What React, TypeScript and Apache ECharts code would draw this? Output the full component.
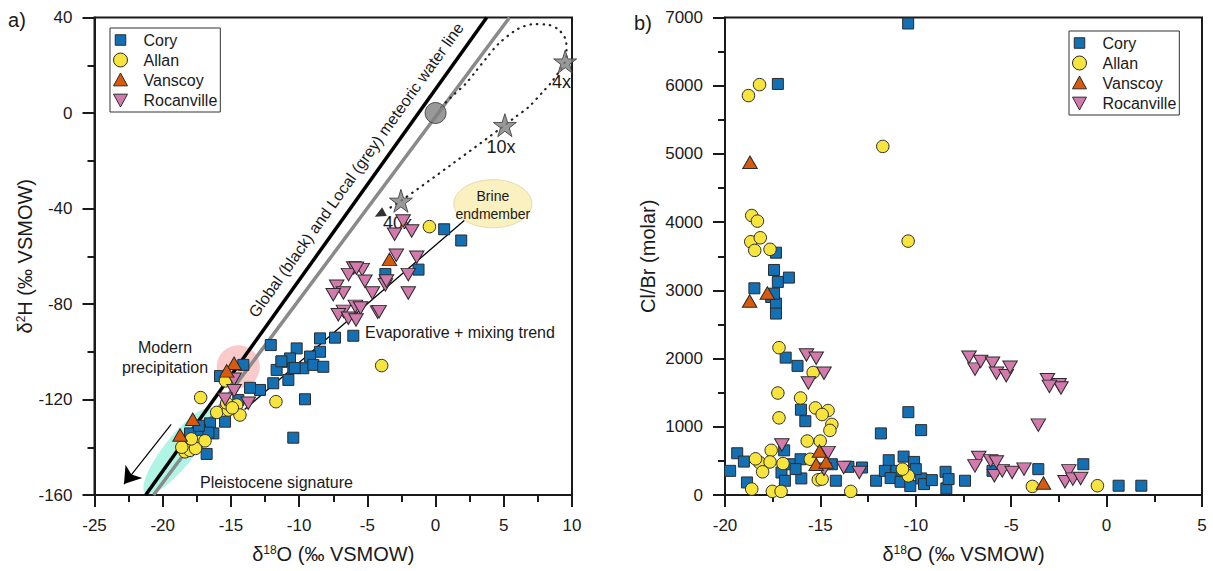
import React, { useEffect, useRef } from 'react';
import * as echarts from 'echarts';

// ---------- Panel a: δ18O vs δ2H ----------
const coryA = [
  [-14.09, -105.5], [-15.8, -110.2], [-12.08, -97.2], [-8.47, -94.4], [-7.37, -94.1], [-6.03, -93.3],
  [-10.18, -98.6], [-8.47, -100], [-9.2, -102], [-11.28, -104.2], [-10.67, -102.8], [-11.65, -107.6],
  [-10.43, -106.9], [-9.7, -106.9], [-8.96, -105.5], [-8.23, -106.3], [-10.79, -111.8], [-11.9, -113.2],
  [-12.87, -116], [-13.6, -115.1], [-9.57, -119.9], [-10.43, -136], [-16.78, -142.8], [-15.43, -129.3],
  [-16.53, -130], [-17.27, -132.8], [-16.29, -134.2], [-18, -134.2], [-14.46, -120.2], [0.63, -48.7],
  [1.88, -53.4], [-3.68, -67.4], [-1.25, -65.6], [-11.3, -104], [-10.33, -106.8], [-16.65, -133.9],
  [-17.35, -131],
];
const allanA = [
  [-0.45, -47.6], [-3.95, -105.8], [-17.22, -119.2], [-11.7, -120.9], [-16.04, -125.4], [-15.19, -124.4],
  [-14.58, -122.3], [-14.34, -126.5], [-15.31, -121.5], [-14.9, -123.5], [-18.24, -139.8], [-17.76, -138.3],
  [-17.27, -137.6], [-16.9, -137.3], [-18.37, -141.9], [-18.0, -141.3], [-17.6, -140.5], [-18.6, -140],
  [-17.9, -136.5], [-15.4, -112.2],
];
const vanscoyA = [[-14.77, -104.8], [-15.31, -108], [-17.8, -128.3], [-18.73, -134.9], [-3.38, -61.3]];
const rocanvilleA = [
  [-2.38, -45.2], [-1.75, -49.4], [-3.0, -50.8], [-2.88, -59.6], [-1.38, -60.4], [-2.0, -67.7], [-2.0, -75.4],
  [-3.68, -72], [-5.38, -65.6], [-6.0, -64.9], [-6.38, -67.7], [-5.18, -70.5], [-4.63, -75.4], [-7.25, -72.6],
  [-6.75, -75.4], [-7.5, -76.1], [-5.88, -81], [-5.5, -81.7], [-4.25, -83.4], [-6.75, -83.1], [-7.13, -84.5],
  [-6.39, -86], [-5.83, -86.7], [-4.14, -83.2], [-14.77, -111.5], [-14.77, -116.3], [-15.43, -119.9],
  [-13.73, -121.6], [-5.8, -65], [-3.6, -70.4],
];
const seawater = [[0, 0]];
const evapStars = [[9.5, 21.5], [5.08, -5.1], [-2.54, -36.8]];
const gmwl = [[-21.25, -160], [3.75, 40]];
const lmwl = [[-20.67, -160], [5.42, 40]];
const trendLine = [[-14, -124.2], [2.1, -45]];
const brinePath = [
  [0.4, 2.5], [1.3, 7.5], [2.2, 12.2], [2.9, 17.1], [3.8, 23.5], [4.6, 28.9], [6.0, 35.1], [7.2, 37.2],
  [8.2, 37], [9.0, 35], [9.55, 30.5], [9.6, 26], [9.5, 21.5], [8.5, 12.9], [7.95, 9.4], [6.82, 2.5],
  [5.84, -1.7], [5.08, -5.1], [1.3, -21], [-2.54, -36.8], [-3.6, -40.6],
];
const brineArrowHead = [[-4.1, -42.4]];
const coolingArrow = [[-19.38, -130.4], [-22.84, -155.4]];
const starLabels = ['4x', '10x', '40x'];

// annotation anchors (data coordinates)
const mwlTextAt = [-5.83, -23.9];
const modernAt = [-14.46, -106.3];
const modernTextAt = [-19.83, -102.6];
const evapTextAt = [-5.17, -91.9];
const pleistoAt = [-18.8, -141.5];
const pleistoTextAt = [-17.27, -154.8];
const brineAt = [4.2, -38];
const starLabelAt = [[8.53, 13], [4.8, -14.2], [-3.85, -46.1]];

// ---------- Panel b: δ18O vs Cl/Br ----------
const coryB = [
  [-10.4, 6912], [-17.23, 6026], [-17.33, 3552], [-17.43, 3299], [-17.23, 3124], [-16.65, 3187], [-18.46, 3030],
  [-17.58, 2903], [-17.33, 2806], [-17.33, 2660], [-17.43, 2951], [-16.82, 2014], [-16.2, 1893], [-16.02, 1250],
  [-15.79, 1082], [-11.83, 903], [-10.39, 1214], [-9.72, 951], [-19.73, 354], [-19.36, 612], [-19.01, 490],
  [-18.85, 184], [-16.9, 655], [-17.04, 330], [-16.86, 209], [-16.51, 451], [-16.04, 524], [-16.0, 243],
  [-14.19, 209], [-13.53, 413], [-12.82, 403], [-14.4, 451], [-12.08, 209], [-11.42, 510], [-11.62, 354],
  [-11.01, 354], [-11.32, 248], [-10.64, 563], [-10.09, 485], [-10.8, 194], [-10.29, 131], [-9.72, 243],
  [-9.57, 160], [-9.16, 218], [-8.44, 340], [-8.4, 97], [-8.28, 233], [-7.42, 209], [-5.98, 354], [-3.58, 379],
  [-1.22, 451], [0.63, 136], [1.82, 136], [-10.0, 379], [-16.3, 380],
];
const allanB = [
  [-18.77, 5855], [-18.19, 6016], [-11.73, 5110], [-10.4, 3722], [-18.6, 4097], [-18.3, 4015], [-18.65, 3713],
  [-18.15, 3771], [-18.44, 3586], [-17.64, 3601], [-17.17, 2160], [-15.38, 1796], [-17.23, 1495], [-16.04, 1422],
  [-17.17, 1131], [-15.26, 1277], [-14.6, 1238], [-14.91, 1180], [-14.4, 1034], [-14.5, 947], [-15.69, 791],
  [-15.01, 791], [-17.58, 655], [-16.96, 461], [-18.19, 476], [-17.64, 485], [-18.03, 340], [-18.6, 87],
  [-17.52, 53], [-17.06, 53], [-13.41, 53], [-15.11, 223], [-14.91, 233], [-3.89, 126], [-0.48, 136],
  [-10.39, 281], [-10.7, 379], [-15.53, 524], [-18.4, 530],
];
const vanscoyB = [[-18.69, 4877], [-18.71, 2844], [-17.78, 2961], [-15.22, 451], [-14.7, 485], [-15.05, 645], [-3.31, 175]];
const rocanvilleB = [
  [-15.73, 2053], [-15.22, 2005], [-14.81, 1786], [-15.63, 1641], [-17.02, 733], [-14.6, 621], [-14.81, 378],
  [-13.78, 403], [-12.96, 330], [-7.21, 2019], [-6.9, 1845], [-6.6, 1956], [-5.98, 1932], [-5.77, 1786],
  [-5.26, 1747], [-5.06, 1874], [-3.1, 1689], [-2.49, 1616], [-2.39, 1568], [-3.0, 1592], [-3.58, 1024],
  [-6.7, 549], [-6.08, 500], [-6.9, 427], [-5.88, 281], [-5.47, 354], [-4.95, 330], [-4.33, 379], [-1.98, 354],
  [-2.18, 194], [-1.77, 233], [-1.36, 243], [-5.78, 485],
];

const seriesNames = ['Cory', 'Allan', 'Vanscoy', 'Rocanville'];
const colors: any = { Cory: '#1370b4', Allan: '#f7e43c', Vanscoy: '#d85a0c', Rocanville: '#d27aab' };
const legendIcons: any = {
  Cory: 'path://M1.5,1.5H10.5V10.5H1.5Z M0,0Z M12,12Z',
  Allan: 'path://M6,0A6,6 0 1,1 6,12A6,6 0 1,1 6,0Z',
  Vanscoy: 'path://M6,0L12,11L0,11Z M0,12Z',
  Rocanville: 'path://M0,1L12,1L6,12Z M0,0Z',
};

const FONT = 'Arial, "Liberation Sans", sans-serif';
const INK = '#1a1a1a';
const STAR = 'path://M50,0L61.2,34.5L97.6,34.5L68.2,55.9L79.4,90.5L50,69.1L20.6,90.5L31.8,55.9L2.4,34.5L38.8,34.5Z';

function axis(gridIndex: number, min: number, max: number, interval: number, extra: any) {
  return {
    type: 'value', gridIndex, min, max, interval,
    axisLine: { show: true, onZero: false, lineStyle: { color: INK, width: 2 } },
    axisTick: { show: true, length: 12, lineStyle: { color: INK, width: 2 } },
    minorTick: { show: true, splitNumber: 2, length: 7, lineStyle: { color: INK, width: 2 } },
    splitLine: { show: false },
    minorSplitLine: { show: false },
    axisLabel: { fontSize: 17, color: INK, fontFamily: FONT, margin: 22, formatter: (v: number) => String(v) },
    nameLocation: 'middle',
    nameTextStyle: {
      fontSize: 20, color: INK, fontFamily: FONT,
      rich: {
        b: { fontSize: 20, color: INK, fontFamily: FONT },
        s: { fontSize: 12, color: INK, fontFamily: FONT, verticalAlign: 'top' },
      },
    },
    ...extra,
  };
}

function scatter(name: string, data: number[][], gi: number, symbol: string, size: any, rotate = 0) {
  return {
    type: 'scatter', name, data, xAxisIndex: gi, yAxisIndex: gi, symbol, symbolSize: size, symbolRotate: rotate,
    itemStyle: { color: colors[name], borderColor: '#2b2b2b', borderWidth: 1, opacity: 1 },
    z: 3,
  };
}

function legend(left: number, top: number) {
  return {
    data: seriesNames.map((n) => ({ name: n, icon: legendIcons[n], itemStyle: { color: colors[n], borderColor: '#2b2b2b', borderWidth: 1 } })),
    orient: 'vertical', left, top,
    itemWidth: 36, itemHeight: 14, itemGap: 4, padding: [4, 3, 4, 3],
    symbolKeepAspect: true, symbolRotate: 0,
    borderColor: '#333', borderWidth: 1, backgroundColor: '#fff',
    textStyle: { fontSize: 16, color: INK, fontFamily: FONT },
    selectedMode: false,
  };
}

export default function App() {
  const ref = useRef<HTMLDivElement>(null);
  useEffect(() => {
    const chart = echarts.init(ref.current!, null, { renderer: 'svg' });
    const option: any = {
      animation: false,
      backgroundColor: '#fff',
      grid: [
        { left: 94.5, top: 17.5, width: 477.5, height: 477.5, show: true, borderColor: INK, borderWidth: 2 },
        { left: 725, top: 17.5, width: 477, height: 477.5, show: true, borderColor: INK, borderWidth: 2 },
      ],
      xAxis: [
        axis(0, -25, 10, 5, { name: '{b|δ}{s|18}{b|O (‰ VSMOW)}', nameGap: 49 }),
        axis(1, -20, 5, 5, { name: '{b|δ}{s|18}{b|O (‰ VSMOW)}', nameGap: 49 }),
      ],
      yAxis: [
        axis(0, -160, 40, 40, { name: '{b|δ}{s|2}{b|H (‰ VSMOW)}', nameGap: 58 }),
        axis(1, 0, 7000, 1000, { name: 'Cl/Br (molar)', nameGap: 67 }),
      ],
      legend: [legend(110, 28), legend(1069, 31)],
      series: [
        { type: 'line', data: gmwl, xAxisIndex: 0, yAxisIndex: 0, symbol: 'none', silent: true, z: 2,
          lineStyle: { color: '#000', width: 3.5 } },
        { type: 'line', data: lmwl, xAxisIndex: 0, yAxisIndex: 0, symbol: 'none', silent: true, z: 2,
          lineStyle: { color: '#8a8a8a', width: 3.5 } },
        { type: 'line', data: trendLine, xAxisIndex: 0, yAxisIndex: 0, symbol: 'none', silent: true, z: 2,
          lineStyle: { color: '#000', width: 1.3 } },
        { type: 'line', data: brinePath, xAxisIndex: 0, yAxisIndex: 0, symbol: 'none', silent: true, z: 2,
          smooth: 0.3, clip: false, lineStyle: { color: '#222', width: 2.2, type: [0.5, 6], cap: 'round' } },
        { type: 'scatter', data: brineArrowHead, xAxisIndex: 0, yAxisIndex: 0, symbol: 'triangle', silent: true,
          symbolSize: [10, 11], symbolRotate: 118, z: 4, itemStyle: { color: '#000' } },
        { type: 'lines', coordinateSystem: 'cartesian2d', xAxisIndex: 0, yAxisIndex: 0, silent: true, z: 4,
          data: [{ coords: coolingArrow }], symbol: ['none', 'arrow'], symbolSize: 16,
          lineStyle: { color: '#000', width: 1.2, opacity: 1 } },
        scatter('Cory', coryA, 0, 'rect', 11),
        scatter('Allan', allanA, 0, 'circle', 12.5),
        scatter('Rocanville', rocanvilleA, 0, 'triangle', [14.5, 12.5], 180),
        scatter('Vanscoy', vanscoyA, 0, 'triangle', [14.5, 12.5]),
        { type: 'scatter', data: seawater, xAxisIndex: 0, yAxisIndex: 0, symbol: 'circle', symbolSize: 21, z: 3,
          silent: true, itemStyle: { color: '#808080', borderColor: '#333', borderWidth: 1 } },
        { type: 'scatter', data: evapStars, xAxisIndex: 0, yAxisIndex: 0, symbol: STAR, symbolSize: 23, z: 3,
          silent: true, clip: false, itemStyle: { color: '#7f7f7f', borderColor: '#333', borderWidth: 1 } },
        scatter('Cory', coryB, 1, 'rect', 11),
        scatter('Allan', allanB, 1, 'circle', 12.5),
        scatter('Rocanville', rocanvilleB, 1, 'triangle', [14.5, 12.5], 180),
        scatter('Vanscoy', vanscoyB, 1, 'triangle', [14.5, 12.5]),
      ],
    };
    chart.setOption(option);

    const px = (d: number[]) => chart.convertToPixel({ xAxisIndex: 0, yAxisIndex: 0 }, d) as number[];
    const g0 = px(gmwl[0]);
    const g1 = px(gmwl[1]);
    const mwlAngle = Math.atan2(g0[1] - g1[1], g1[0] - g0[0]);
    const pc = px(pleistoAt);
    const mc = px(modernAt);
    const bc = px(brineAt);
    const txt = (pos: number[], text: string, size: number, align = 'center', extra: any = {}) => ({
      type: 'text', x: pos[0], y: pos[1], z: 1, silent: true, ...extra,
      style: { text, fontSize: size, fontFamily: FONT, fill: INK, align, verticalAlign: 'middle',
        textAlign: align, textVerticalAlign: 'middle', ...(extra.style || {}) },
    });
    chart.setOption({
      graphic: [
        { type: 'ellipse', x: pc[0], y: pc[1], rotation: (51.5 * Math.PI) / 180, z: 0, silent: true,
          shape: { cx: 0, cy: 0, rx: 54, ry: 15 }, style: { fill: 'rgba(110,235,205,0.55)' } },
        { type: 'circle', x: mc[0], y: mc[1], z: 0, silent: true,
          shape: { cx: 0, cy: 0, r: 21.5 }, style: { fill: 'rgba(242,150,150,0.5)' } },
        { type: 'ellipse', x: bc[0], y: bc[1], z: 0, silent: true,
          shape: { cx: 0, cy: 0, rx: 39, ry: 24 }, style: { fill: '#faf0c0', stroke: '#e6dcaa', lineWidth: 1 } },
        txt(px(mwlTextAt), 'Global (black) and Local (grey) meteoric water line', 16, 'center', { rotation: mwlAngle }),
        txt(px(modernTextAt), 'Modern\nprecipitation', 16, 'center', { style: { lineHeight: 20 } }),
        txt(px(evapTextAt), 'Evaporative + mixing trend', 16, 'left'),
        txt(px(pleistoTextAt), 'Pleistocene signature', 16, 'left'),
        txt([bc[0], bc[1] + 1.5], 'Brine\nendmember', 14, 'center', { style: { lineHeight: 18 } }),
        txt(px(starLabelAt[0]), starLabels[0], 18, 'left'),
        txt(px(starLabelAt[1]), starLabels[1], 18, 'center'),
        txt(px(starLabelAt[2]), starLabels[2], 18, 'left'),
        txt([17, 20], 'a)', 20, 'center'),
        txt([643, 23], 'b)', 20, 'center'),
      ],
    });
    return () => chart.dispose();
  }, []);
  return (
    <div
      ref={ref}
      style={{ position: 'fixed', left: 0, top: 0, width: 1213, height: 571, background: '#fff' }}
    />
  );
}
